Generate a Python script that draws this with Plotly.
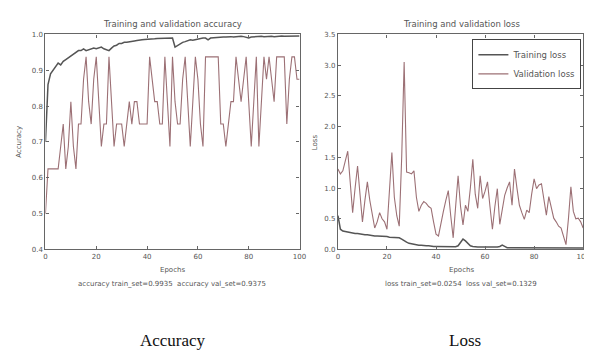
import plotly.graph_objects as go

epochs = list(range(101))

train_acc = [0.70, 0.86, 0.89, 0.90, 0.91, 0.92, 0.915, 0.925, 0.93, 0.935,
             0.94, 0.945, 0.95, 0.955, 0.955, 0.96, 0.955, 0.958, 0.96, 0.962,
             0.96, 0.962, 0.965, 0.96, 0.958, 0.955, 0.962, 0.968, 0.97, 0.975,
             0.975, 0.978, 0.978, 0.98, 0.982, 0.982, 0.983, 0.985, 0.985, 0.986,
             0.986, 0.987, 0.988, 0.988, 0.989, 0.989, 0.99, 0.99, 0.99, 0.991,
             0.99, 0.965, 0.97, 0.975, 0.978, 0.98, 0.982, 0.985, 0.984, 0.986,
             0.988, 0.988, 0.99, 0.99, 0.985, 0.99, 0.991, 0.992, 0.992, 0.993,
             0.993, 0.993, 0.994, 0.994, 0.993, 0.994, 0.994, 0.995, 0.994, 0.992,
             0.99, 0.993, 0.994, 0.994, 0.995, 0.995, 0.994, 0.995, 0.995, 0.995,
             0.994, 0.995, 0.995, 0.996, 0.995, 0.995, 0.996, 0.996, 0.995, 0.996,
             0.996]

val_acc = [0.5, 0.625, 0.625, 0.625, 0.625, 0.625, 0.6875, 0.75, 0.625, 0.6875,
           0.8125, 0.6875, 0.625, 0.75, 0.75, 0.875, 0.9375, 0.8125, 0.75, 0.875,
           0.9375, 0.8125, 0.6875, 0.75, 0.75, 0.9375, 0.8125, 0.6875, 0.75, 0.75,
           0.75, 0.6875, 0.75, 0.8125, 0.75, 0.8125, 0.8125, 0.75, 0.75, 0.75,
           0.75, 0.9375, 0.875, 0.8125, 0.8125, 0.75, 0.75, 0.9375, 0.8125, 0.6875,
           0.9375, 0.8125, 0.75, 0.75, 0.875, 0.9375, 0.8125, 0.6875, 0.8125, 0.9375,
           0.875, 0.75, 0.6875, 0.9375, 0.9375, 0.9375, 0.9375, 0.9375, 0.9375, 0.75,
           0.75, 0.6875, 0.75, 0.8125, 0.8125, 0.9375, 0.875, 0.8125, 0.875, 0.9375,
           0.8125, 0.6875, 0.8125, 0.9375, 0.6875, 0.8125, 0.9375, 0.875, 0.9375, 0.875,
           0.8125, 0.9375, 0.9375, 0.9375, 0.9375, 0.75, 0.875, 0.9375, 0.9375, 0.875,
           0.875]

train_loss = [0.55, 0.33, 0.30, 0.29, 0.28, 0.28, 0.27, 0.26, 0.26, 0.25,
              0.25, 0.24, 0.24, 0.23, 0.23, 0.22, 0.22, 0.22, 0.21, 0.21,
              0.21, 0.20, 0.20, 0.20, 0.20, 0.19, 0.17, 0.14, 0.12, 0.10,
              0.09, 0.08, 0.08, 0.07, 0.07, 0.06, 0.06, 0.06, 0.05, 0.05,
              0.05, 0.05, 0.05, 0.045, 0.045, 0.04, 0.04, 0.04, 0.045, 0.06,
              0.12, 0.17, 0.14, 0.10, 0.06, 0.05, 0.04, 0.04, 0.04, 0.04,
              0.04, 0.04, 0.035, 0.035, 0.035, 0.04, 0.05, 0.07, 0.05, 0.03,
              0.03, 0.03, 0.03, 0.03, 0.03, 0.028, 0.028, 0.027, 0.027, 0.027,
              0.026, 0.026, 0.026, 0.026, 0.025, 0.025, 0.025, 0.025, 0.025, 0.025,
              0.025, 0.025, 0.025, 0.025, 0.025, 0.025, 0.025, 0.025, 0.025, 0.025,
              0.025]

val_loss = [1.31, 1.23, 1.28, 1.45, 1.60, 1.10, 0.60, 1.00, 1.36, 0.90,
            0.45, 0.80, 1.10, 0.80, 0.55, 0.35, 0.45, 0.60, 0.50, 0.45,
            0.33, 1.00, 1.58, 0.85, 0.55, 0.38, 1.50, 3.05, 1.26, 1.25,
            1.23, 1.28, 0.85, 0.62, 0.72, 0.78, 0.75, 0.70, 0.67, 0.45,
            0.25, 0.22, 0.45, 0.62, 0.80, 0.96, 0.55, 0.19, 0.70, 1.20,
            0.70, 0.40, 0.72, 0.62, 1.00, 1.47, 0.90, 0.67, 1.20, 0.83,
            0.95, 1.10, 0.70, 0.33, 0.70, 0.99, 0.41, 0.65, 0.88, 1.00,
            1.10, 0.72, 1.31, 1.00, 0.72, 0.60, 0.49, 0.64, 0.60, 0.90,
            1.15, 0.99, 1.05, 1.07, 0.80, 0.56, 0.86, 0.70, 0.51, 0.45,
            0.38, 0.35, 0.20, 0.08, 0.50, 1.02, 0.62, 0.50, 0.51, 0.45,
            0.35]

acc_ticks = [0.4, 0.5, 0.6, 0.7, 0.8, 0.9, 1.0]
loss_ticks = [0.0, 0.5, 1.0, 1.5, 2.0, 2.5, 3.0, 3.5]
x_ticks = [0, 20, 40, 60, 80, 100]

TRAIN_COLOR = "#555555"
VAL_COLOR = "#9c7075"

W, H = 592, 353
ytop, ybot = 1 - 23 / H, 1 - 243 / H

fig = go.Figure()
fig.add_trace(go.Scatter(x=epochs, y=val_acc, mode="lines", line=dict(color=VAL_COLOR, width=1.1),
                         xaxis="x", yaxis="y", showlegend=False))
fig.add_trace(go.Scatter(x=epochs, y=train_acc, mode="lines", line=dict(color=TRAIN_COLOR, width=1.5),
                         xaxis="x", yaxis="y", showlegend=False))
fig.add_trace(go.Scatter(x=epochs, y=train_loss, mode="lines", name="Training loss",
                         line=dict(color=TRAIN_COLOR, width=1.5), xaxis="x2", yaxis="y2"))
fig.add_trace(go.Scatter(x=epochs, y=val_loss, mode="lines", name="Validation loss",
                         line=dict(color=VAL_COLOR, width=1.1), xaxis="x2", yaxis="y2"))

axis_common = dict(showgrid=False, zeroline=False, showline=True, linecolor="#666666", linewidth=1.2,
                   mirror="allticks", ticks="inside", ticklen=3, tickcolor="#666666",
                   tickfont=dict(family="DejaVu Sans", size=7, color="#555555"))

fig.update_layout(
    width=W, height=H,
    margin=dict(l=0, r=0, t=0, b=0),
    paper_bgcolor="white", plot_bgcolor="white",
    xaxis=dict(domain=[36 / W, 294 / W], range=[0, 100], tickvals=x_ticks, anchor="y", **axis_common),
    yaxis=dict(domain=[ybot, ytop], range=[0.4, 1.0], tickvals=acc_ticks, tickformat=".1f",
               anchor="x", **axis_common),
    xaxis2=dict(domain=[333 / W, 582 / W], range=[0, 100], tickvals=x_ticks, anchor="y2", **axis_common),
    yaxis2=dict(domain=[ybot, ytop], range=[0, 3.5], tickvals=loss_ticks, tickformat=".1f",
                anchor="x2", **axis_common),
    legend=dict(x=582 / W - 0.003, y=1 - 28 / H, xanchor="right", yanchor="top", bgcolor="white",
                bordercolor="#444444", borderwidth=1, itemwidth=30, tracegroupgap=0,
                font=dict(family="DejaVu Sans", size=8.5, color="#555555")),
)

small = dict(family="DejaVu Sans", color="#555555")
ann = [
    dict(text="Training and validation accuracy", x=165 / W, y=1 - 12 / H, font=dict(size=8.5, **small)),
    dict(text="Training and validation loss", x=458 / W, y=1 - 12 / H, font=dict(size=8.5, **small)),
    dict(text="Epochs", x=165 / W, y=1 - 264 / H, font=dict(size=7, **small)),
    dict(text="Epochs", x=458 / W, y=1 - 264 / H, font=dict(size=7, **small)),
    dict(text="accuracy train_set=0.9935  accuracy val_set=0.9375", x=165 / W, y=1 - 278 / H,
         font=dict(size=7, **small)),
    dict(text="loss train_set=0.0254  loss val_set=0.1329", x=458 / W, y=1 - 278 / H,
         font=dict(size=7, **small)),
    dict(text="Accuracy", x=9 / W, y=1 - 133 / H, textangle=-90, font=dict(size=7, **small)),
    dict(text="Loss", x=310 / W, y=1 - 133 / H, textangle=-90, font=dict(size=7, **small)),
    dict(text="Accuracy", x=166 / W, y=1 - 336 / H,
         font=dict(family="Liberation Serif", size=17, color="#111111")),
    dict(text="Loss", x=462 / W, y=1 - 336 / H,
         font=dict(family="Liberation Serif", size=17, color="#111111")),
]
for a in ann:
    a.update(xref="paper", yref="paper", showarrow=False, xanchor="center", yanchor="middle")
fig.update_layout(annotations=ann)

fig.write_html("out.html")
